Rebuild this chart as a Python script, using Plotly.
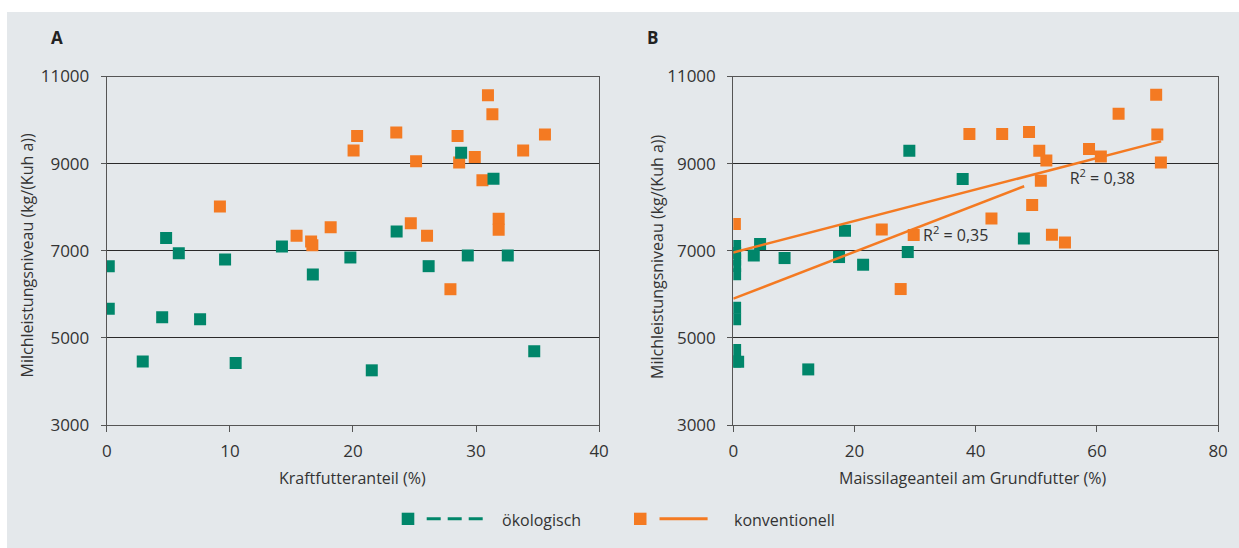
import plotly.graph_objects as go

W, H = 1239, 548

# ---------------- data ----------------
# Panel A: Kraftfutteranteil (%) vs Milchleistungsniveau
a_oeko_x = [0.16, 0.16, 2.92, 4.50, 4.82, 5.85, 7.58, 9.61, 10.47, 14.23,
            16.74, 19.79, 21.53, 23.55, 26.15, 28.79, 29.33, 31.42, 32.58, 34.73]
a_oeko_y = [6646, 5667, 4455, 5474, 7290, 6945, 5428, 6800, 4425, 7099,
            6455, 6846, 4255, 7444, 6646, 9250, 6892, 8655, 6892, 4692]
a_konv_x = [9.19, 15.42, 16.60, 16.70, 18.19, 20.05, 20.34, 23.52, 24.70, 25.13,
            26.02, 27.92, 28.50, 28.63, 29.90, 30.52, 30.97, 31.33, 31.84, 31.84,
            33.83, 35.60]
a_konv_y = [8018, 7345, 7210, 7125, 7540, 9299, 9635, 9713, 7634, 9053,
            7345, 6117, 9635, 9023, 9152, 8616, 10570, 10133, 7736, 7483,
            9299, 9667]

# Panel B: Maissilageanteil am Grundfutter (%) vs Milchleistungsniveau
b_oeko_x = [0.3, 0.3, 0.3, 0.3, 0.3, 0.3, 0.3, 0.3, 0.3, 0.8,
            3.38, 4.42, 8.46, 12.37, 17.45, 18.43, 21.42, 28.79, 29.05, 37.85, 47.95]
b_oeko_y = [7110, 6950, 6800, 6650, 6460, 5690, 5430, 4720, 4460, 4450,
            6892, 7154, 6832, 4276, 6855, 7459, 6679, 6970, 9295, 8645, 7282]
b_konv_x = [0.26, 24.50, 27.62, 29.77, 38.96, 42.60, 44.37, 48.80, 49.32, 50.49,
            50.75, 51.66, 52.58, 54.73, 58.70, 60.65, 63.58, 69.78, 69.97, 70.56]
b_konv_y = [7613, 7489, 6121, 7360, 9678, 7741, 9678, 9724, 8049, 9295,
            8606, 9072, 7367, 7190, 9334, 9164, 10144, 10580, 9669, 9026]

# regression lines (panel B)
fit1_x = [0.0, 70.6]
fit1_y = [6960, 9510]
fit2_x = [0.0, 48.0]
fit2_y = [5900, 8480]
r2_text = ["R<sup>2</sup> = 0,38", "R<sup>2</sup> = 0,35"]
r2_x = [60.9, 36.7]
r2_y = [8620, 7314]

y_ticks = [3000, 5000, 7000, 9000, 11000]
y_ticklabels = ["3000", "5000", "7000", "9000", "11000"]
xa_ticks = [0, 10, 20, 30, 40]
xb_ticks = [0, 20, 40, 60, 80]

panel_labels = ["A", "B"]
x_titles = ["Kraftfutteranteil (%)", "Maissilageanteil am Grundfutter (%)"]
y_title = "Milchleistungsniveau (kg/(Kuh a))"
legend_names = ["ökologisch", "konventionell"]

# ---------------- style ----------------
GREEN = "#00866a"
ORANGE = "#f47a22"
BG = "#e4e8eb"
TXT = "#333333"
FONT = "Open Sans"


def px(x):
    return x / W


def py(y):
    return 1 - y / H


fig = go.Figure()

msize = 12
fig.add_trace(go.Scatter(x=a_konv_x, y=a_konv_y, mode="markers", xaxis="x", yaxis="y",
                         marker=dict(symbol="square", size=msize, color=ORANGE),
                         showlegend=False, name=legend_names[1]))
fig.add_trace(go.Scatter(x=a_oeko_x, y=a_oeko_y, mode="markers", xaxis="x", yaxis="y",
                         marker=dict(symbol="square", size=msize, color=GREEN),
                         showlegend=False, name=legend_names[0]))
fig.add_trace(go.Scatter(x=b_konv_x, y=b_konv_y, mode="markers", xaxis="x2", yaxis="y2",
                         marker=dict(symbol="square", size=msize, color=ORANGE),
                         showlegend=False, name=legend_names[1]))
fig.add_trace(go.Scatter(x=b_oeko_x, y=b_oeko_y, mode="markers", xaxis="x2", yaxis="y2",
                         marker=dict(symbol="square", size=msize, color=GREEN),
                         showlegend=False, name=legend_names[0]))
fig.add_trace(go.Scatter(x=fit1_x, y=fit1_y, mode="lines", xaxis="x2", yaxis="y2",
                         line=dict(color=ORANGE, width=2.5), showlegend=False))
fig.add_trace(go.Scatter(x=fit2_x, y=fit2_y, mode="lines", xaxis="x2", yaxis="y2",
                         line=dict(color=ORANGE, width=2.5), showlegend=False))
fig.add_trace(go.Scatter(x=r2_x, y=r2_y, mode="text", xaxis="x2", yaxis="y2",
                         text=r2_text, textfont=dict(family=FONT, size=16, color=TXT),
                         showlegend=False))

ydom = [py(425.0), py(76.5)]
common_y = dict(range=[3000, 11000], tickvals=y_ticks, ticktext=y_ticklabels,
                showgrid=True, gridcolor="#2a2a2a",
                gridwidth=1, showline=True, linecolor="#555555", linewidth=1.2, mirror=True,
                ticks="outside", ticklen=5, tickcolor="#555555", zeroline=False,
                tickfont=dict(family=FONT, size=17, color=TXT), ticklabelstandoff=8,
                automargin=False, domain=ydom, fixedrange=True)
common_x = dict(showgrid=False, showline=True, linecolor="#555555", linewidth=1.2, mirror=True,
                ticks="outside", ticklen=6, tickcolor="#555555", zeroline=False,
                tickfont=dict(family=FONT, size=17, color=TXT), ticklabelstandoff=4,
                automargin=False, fixedrange=True)

fig.update_layout(
    width=W, height=H,
    margin=dict(l=0, r=0, t=0, b=0),
    paper_bgcolor="white",
    plot_bgcolor="rgba(0,0,0,0)",
    showlegend=False,
    xaxis=dict(common_x, range=[0, 40], tickvals=xa_ticks, domain=[px(106.8), px(599.1)], anchor="y"),
    yaxis=dict(common_y, anchor="x"),
    xaxis2=dict(common_x, range=[0, 80], tickvals=xb_ticks, domain=[px(733.3), px(1218.1)], anchor="y2"),
    yaxis2=dict(common_y, anchor="x2"),
)

shapes = [
    dict(type="rect", xref="paper", yref="paper", x0=px(7), x1=1, y0=0, y1=py(12),
         fillcolor=BG, line=dict(width=0), layer="below"),
    # legend symbols
    dict(type="rect", xref="paper", yref="paper", x0=px(401.7), x1=px(414.3), y0=py(525), y1=py(512.7),
         fillcolor=GREEN, line=dict(width=0)),
    dict(type="line", xref="paper", yref="paper", x0=px(426.7), x1=px(483.3), y0=py(518.8), y1=py(518.8),
         line=dict(color=GREEN, width=3, dash="14px,7px")),
    dict(type="rect", xref="paper", yref="paper", x0=px(634), x1=px(646.5), y0=py(525), y1=py(512.7),
         fillcolor=ORANGE, line=dict(width=0)),
    dict(type="line", xref="paper", yref="paper", x0=px(659.5), x1=px(707.6), y0=py(518.8), y1=py(518.8),
         line=dict(color=ORANGE, width=3)),
]
fig.update_layout(shapes=shapes)

ann = []
for lab, xx in zip(panel_labels, [57, 652]):
    ann.append(dict(text="<b>%s</b>" % lab, x=px(xx), y=py(38), xref="paper", yref="paper",
                    showarrow=False, xanchor="center", yanchor="middle",
                    font=dict(family=FONT, size=17, color="#222222")))
for t, xx in zip(x_titles, [353, 973]):
    ann.append(dict(text=t, x=px(xx), y=py(478), xref="paper", yref="paper", showarrow=False,
                    xanchor="center", yanchor="middle", font=dict(family=FONT, size=16, color=TXT)))
for xx, yy in zip([26, 657], [255.5, 257]):
    ann.append(dict(text=y_title, x=px(xx), y=py(yy), xref="paper", yref="paper", showarrow=False,
                    textangle=-90, xanchor="center", yanchor="middle",
                    font=dict(family=FONT, size=16, color=TXT)))
for t, xx in zip(legend_names, [500, 732]):
    ann.append(dict(text=t, x=px(xx), y=py(520), xref="paper", yref="paper", showarrow=False,
                    xanchor="left", yanchor="middle", font=dict(family=FONT, size=16, color=TXT)))
fig.update_layout(annotations=ann)

fig.write_html("out.html", config={"displayModeBar": False},
               post_script="document.body.style.margin='0';document.body.style.overflow='hidden';")
